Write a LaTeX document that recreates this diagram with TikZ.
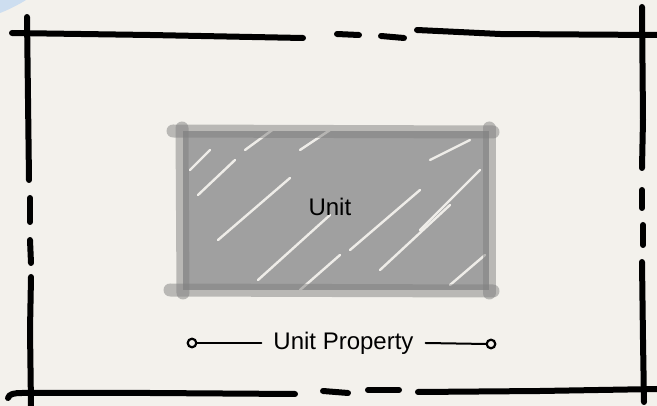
\documentclass[tikz,border=0pt]{standalone}
\usepackage{fontspec}
\setmainfont{Liberation Sans}
\usetikzlibrary{positioning, arrows.meta, calc}

\definecolor{paper}{RGB}{243,241,236}
\definecolor{corner}{RGB}{205,222,240}
\definecolor{unitgray}{RGB}{160,160,160}
\definecolor{edgegray}{RGB}{128,128,128}

\begin{document}
\begin{tikzpicture}[x=1pt, y=-1pt, line cap=round, line join=round,
    frameline/.style={line width=6pt, black},
    unitedge/.style={line width=13pt, edgegray, opacity=0.5},
    streak/.style={line width=2.4pt, paper, opacity=0.95},
    propline/.style={line width=2pt},
    propend/.style={line width=2.2pt, fill=paper},
    label/.style={font=\fontsize{24}{28}\selectfont, text=black}]

    % --- 背景 ---
    \fill[paper] (0,0) rectangle (657,406);
    \useasboundingbox (0,0) rectangle (657,406);
    \fill[corner] (0,0) -- (26,0) .. controls (18,5) and (8,10) .. (0,13) -- cycle;

    % --- 外框 (上) ---
    \draw[frameline] (12,33) -- (150,35) -- (303,38);
    \draw[frameline] (337,34) -- (359,35);
    \draw[frameline] (381,36) -- (404,38);
    \draw[frameline] (417,30) -- (500,34) -- (657,35);

    % --- 外框 (下) ---
    \draw[frameline] (8,398) .. controls (9,394) and (14,393) .. (22,393) -- (150,393) -- (295,394);
    \draw[frameline] (323,391) -- (348,393);
    \draw[frameline] (368,390) -- (399,390);
    \draw[frameline] (418,392) -- (540,391) -- (657,389);

    % --- 外框 (左) ---
    \draw[frameline] (27,17) -- (29,180);
    \draw[frameline] (30,198) -- (30,222);
    \draw[frameline] (30,240) -- (31,263);
    \draw[frameline] (31,277) -- (30,330) -- (31,406);

    % --- 外框 (右) ---
    \draw[frameline] (642,7) -- (643,120) -- (642,168);
    \draw[frameline] (642,190) -- (642,208);
    \draw[frameline] (643,225) -- (643,245);
    \draw[frameline] (642,262) -- (643,340) -- (644,402);

    % --- Unit 矩形 ---
    \coordinate (UnitNW) at (183,131);
    \coordinate (UnitSE) at (489,290);
    \fill[unitgray] (UnitNW) rectangle (UnitSE);
    % 涂抹留下的白色细缝
    \foreach \sx/\sy/\ex/\ey in {245/150/275/128, 300/150/330/130, 198/195/235/160,
                                 218/240/290/178, 258/280/330/215, 350/250/420/190,
                                 380/270/450/205, 420/230/480/170, 430/160/470/140,
                                 300/290/340/255, 450/285/485/255, 190/170/210/150}
        \draw[streak] (\sx,\sy) -- (\ex,\ey);
    \draw[unitedge] (173,131) -- (493,132);
    \draw[unitedge] (170,290) -- (493,291);
    \draw[unitedge] (182,128) -- (183,293);
    \draw[unitedge] (489,128) -- (489,293);
    \node[label] (unit) at ($(UnitNW)!0.48!(UnitSE)$) {Unit};

    % --- Unit Property 标注 ---
    \node[label, inner xsep=12pt] (prop) at (343.5,343) {Unit Property};
    \coordinate (PropL) at (192,343);
    \coordinate (PropR) at (491,344);
    \draw[propline] (prop.west) -- ([xshift=4.5pt]PropL);
    \draw[propline] (prop.east) -- ([xshift=-4.5pt]PropR);
    \draw[propend] (PropL) circle (4.3pt);
    \draw[propend] (PropR) circle (4.3pt);

\end{tikzpicture}
\end{document}
